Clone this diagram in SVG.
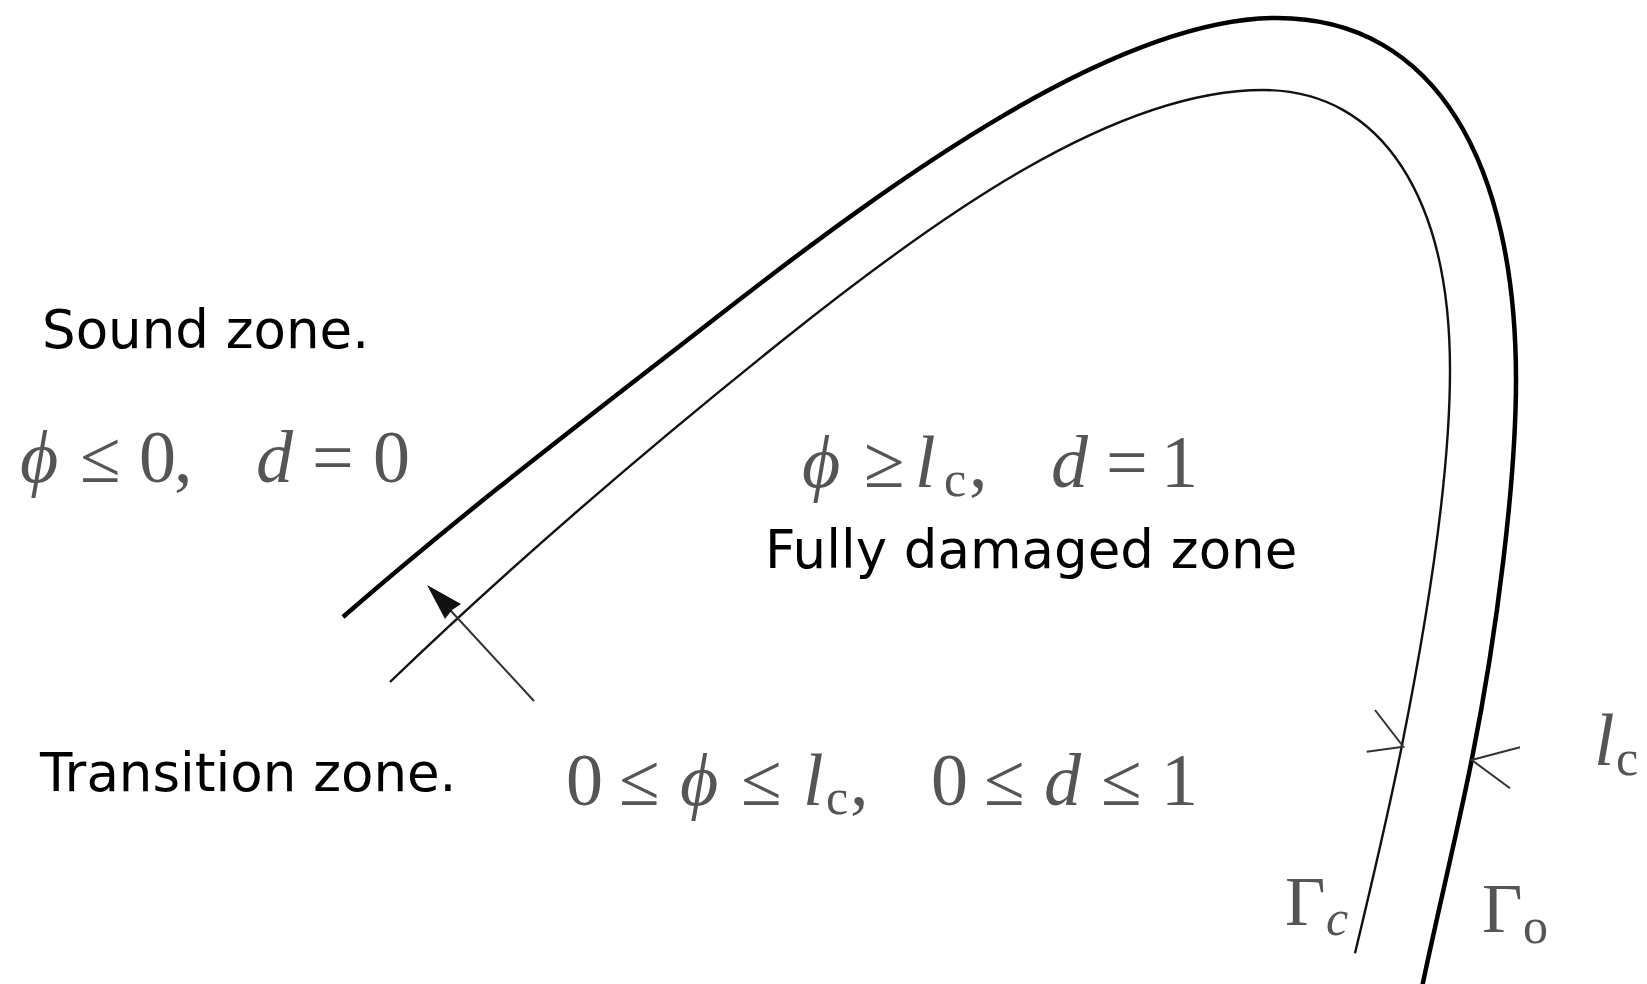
<svg xmlns="http://www.w3.org/2000/svg" width="1647" height="984" viewBox="0 0 1647 984">
<style>
.lbl{font-family:"DejaVu Sans","Liberation Sans",sans-serif;font-size:53px;fill:#000}
.m{font-family:"Liberation Serif","DejaVu Serif",serif;font-size:74px;fill:#555}
.g{font-size:70px}
.i{font-style:italic}
.s{font-size:50px}
.thick{fill:none;stroke:#000;stroke-width:4.5;stroke-linecap:butt}
.thin{fill:none;stroke:#111;stroke-width:2.4}
.arr{fill:none;stroke:#333;stroke-width:2}
</style>
<rect width="1647" height="984" fill="#fff"/>
<g id="outer-boundary">
<path class="thick" d="M343,617 C468,508 592,414.5 717,317 C897,176.6 1117,18 1277,18 C1437,18 1516,165 1516,380 C1516,480 1497.1,633 1471.7,760 C1456.7,835 1437,915 1421,992"/>
</g>
<g id="inner-boundary">
<path class="thin" d="M390,682 C520,557 653,444 783,340 C933,220 1113,90 1263,90 C1383,90 1450,200 1450,370 C1450,480 1426.7,621.7 1401.7,746.7 C1387.7,816.7 1371.8,883.3 1355,953.3"/>
</g>
<g id="connectors">
<line class="arr" x1="534" y1="701" x2="440" y2="599"/>
<polygon points="427,585 461,604 452,610 445,619" fill="#111"/>
<polyline class="arr" points="1366.7,751.7 1403.3,746.7 1375,710"/>
<polyline class="arr" points="1520,747.3 1471.7,760 1510,788.3"/>
</g>
<g id="sound-zone">
<text class="lbl" x="42" y="348">Sound zone.</text>
<text class="m" y="482"><tspan class="i" x="20">ϕ</tspan><tspan x="80">≤</tspan><tspan x="139">0</tspan><tspan x="174">,</tspan><tspan class="i" x="256">d</tspan><tspan x="312">=</tspan><tspan x="373">0</tspan></text>
</g>
<g id="fully-damaged-zone">
<text class="m" y="487"><tspan class="i" x="802">ϕ</tspan><tspan x="864">≥</tspan><tspan class="i" x="915">l</tspan><tspan class="s" x="944" dy="9">c</tspan><tspan x="969" dy="-9">,</tspan><tspan class="i" x="1051">d</tspan><tspan x="1106">=</tspan><tspan x="1161">1</tspan></text>
<text class="lbl" x="765" y="568">Fully damaged zone</text>
</g>
<g id="transition-zone">
<text class="lbl" x="40" y="791">Transition zone.</text>
<text class="m" y="805"><tspan x="566">0</tspan><tspan x="619">≤</tspan><tspan class="i" x="680">ϕ</tspan><tspan x="741">≤</tspan><tspan class="i" x="803">l</tspan><tspan class="s" x="826" dy="9">c</tspan><tspan x="850" dy="-9">,</tspan><tspan x="931">0</tspan><tspan x="984">≤</tspan><tspan class="i" x="1044">d</tspan><tspan x="1101">≤</tspan><tspan x="1161">1</tspan></text>
</g>
<g id="gamma-c">
<text class="m g" x="1285" y="925">Γ</text>
<text class="m s i" x="1326" y="935">c</text>
</g>
<g id="gamma-o">
<text class="m g" x="1482" y="932">Γ</text>
<text class="m s" x="1523" y="943">o</text>
</g>
<g id="lc-label">
<text class="m" y="765"><tspan class="i" x="1594">l</tspan><tspan class="s" x="1616" dy="10">c</tspan></text>
</g>
</svg>
